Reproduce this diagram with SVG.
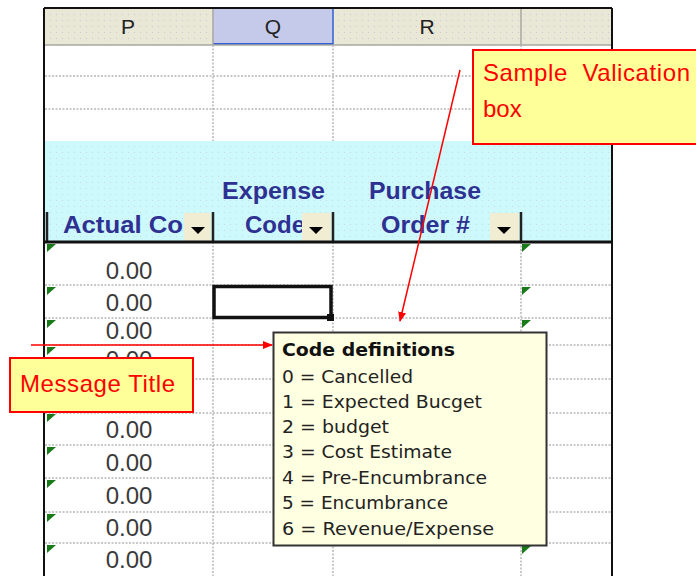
<svg xmlns="http://www.w3.org/2000/svg" width="696" height="576" viewBox="0 0 696 576">
<defs>
<marker id="ah" markerWidth="10" markerHeight="8" refX="9" refY="4" orient="auto" markerUnits="userSpaceOnUse">
<path d="M0,0 L10,4 L0,8 Z" fill="#ff0000"/>
</marker>
<pattern id="dots" width="6" height="6" patternUnits="userSpaceOnUse">
<rect x="2" y="2" width="1" height="1" fill="#c8c8d8"/>
</pattern>
<clipPath id="rowclip"><rect x="44" y="345" width="200" height="13"/></clipPath>
</defs>
<style>
.grid{stroke:#b8b8b8;stroke-width:1.5;stroke-dasharray:2 1.5;fill:none}
.colhdr{font-family:"Liberation Sans",Arial,sans-serif;font-size:21px;fill:#222;text-anchor:middle}
.hd{font-family:"Liberation Sans",Arial,sans-serif;font-weight:bold;font-size:23px;fill:#2e3192}
.num{font-family:"Liberation Sans",Arial,sans-serif;font-size:24px;fill:#3a3a3a;text-anchor:middle}
.tip{font-family:"DejaVu Sans",Tahoma,sans-serif;font-size:17px;fill:#222}
.tipb{font-family:"DejaVu Sans",Tahoma,sans-serif;font-size:17px;font-weight:bold;fill:#111}
.call{font-family:"Liberation Sans",Arial,sans-serif;font-size:24px;fill:#ff0000}
.green{fill:#1a7a1a}
.ddbtn{fill:#f1edd2}
</style>
<rect width="696" height="576" fill="#ffffff"/>
<g id="sheet">
<rect x="44" y="8" width="568" height="37" fill="#e9e7d6"/>
<rect x="44" y="8" width="568" height="37" fill="url(#dots)"/>
<rect x="213" y="8" width="120" height="37" fill="#c6caea"/>
<line x1="213" y1="44" x2="333" y2="44" stroke="#2f5fd0" stroke-width="2"/>
<line x1="333" y1="8" x2="333" y2="45" stroke="#2f5fd0" stroke-width="1.5"/>
<line x1="213" y1="8" x2="213" y2="45" stroke="#a8a8a0" stroke-width="1.5"/>
<line x1="521" y1="8" x2="521" y2="45" stroke="#a8a8a0" stroke-width="1.5"/>
<line x1="44" y1="45" x2="612" y2="45" stroke="#a8a8a0" stroke-width="1.5"/>
<text class="colhdr" x="128" y="34">P</text>
<text class="colhdr" x="273" y="34">Q</text>
<text class="colhdr" x="427" y="34">R</text>
<rect x="45" y="141" width="567" height="101" fill="#cdf8fc"/>
<rect x="45" y="141" width="567" height="101" fill="url(#dots)" opacity="0.6"/>
<line class="grid" x1="45" y1="76" x2="612" y2="76"/>
<line class="grid" x1="45" y1="109" x2="612" y2="109"/>
<line class="grid" x1="213" y1="45" x2="213" y2="141"/>
<line class="grid" x1="333" y1="45" x2="333" y2="141"/>
<line class="grid" x1="521" y1="45" x2="521" y2="141"/>
<line class="grid" x1="213" y1="242" x2="213" y2="576"/>
<line class="grid" x1="333" y1="242" x2="333" y2="576"/>
<line class="grid" x1="521" y1="242" x2="521" y2="576"/>
<line class="grid" x1="45" y1="285" x2="612" y2="285"/>
<line class="grid" x1="45" y1="318" x2="612" y2="318"/>
<line class="grid" x1="45" y1="345" x2="612" y2="345"/>
<line class="grid" x1="45" y1="379" x2="612" y2="379"/>
<line class="grid" x1="45" y1="413" x2="612" y2="413"/>
<line class="grid" x1="45" y1="445" x2="612" y2="445"/>
<line class="grid" x1="45" y1="478" x2="612" y2="478"/>
<line class="grid" x1="45" y1="512" x2="612" y2="512"/>
<line class="grid" x1="45" y1="543" x2="612" y2="543"/>
<text class="hd" x="63" y="233" textLength="120" lengthAdjust="spacingAndGlyphs">Actual Co</text>
<text class="hd" x="222" y="199" textLength="103" lengthAdjust="spacingAndGlyphs">Expense</text>
<text class="hd" x="245" y="233" textLength="60" lengthAdjust="spacingAndGlyphs">Code</text>
<text class="hd" x="369" y="199" textLength="112" lengthAdjust="spacingAndGlyphs">Purchase</text>
<text class="hd" x="381" y="233" textLength="89" lengthAdjust="spacingAndGlyphs">Order #</text>
<rect class="ddbtn" x="184" y="213" width="27" height="29"/>
<rect class="ddbtn" x="302" y="213" width="29" height="29"/>
<rect class="ddbtn" x="490" y="213" width="29" height="29"/>
<path d="M191,227 L205,227 L198,234 Z" fill="#000"/>
<path d="M309,227 L323,227 L316,234 Z" fill="#000"/>
<path d="M497,227 L511,227 L504,234 Z" fill="#000"/>
<g stroke="#222" stroke-width="2.5">
<line x1="47" y1="212" x2="47" y2="242"/>
<line x1="213" y1="212" x2="213" y2="242"/>
<line x1="333" y1="212" x2="333" y2="242"/>
<line x1="521" y1="212" x2="521" y2="242"/>
</g>
<line x1="44" y1="242" x2="612" y2="242" stroke="#111" stroke-width="3"/>
<g class="green">
<path d="M47,244 L56,244 L47,252 Z"/>
<path d="M47,287 L56,287 L47,295 Z"/>
<path d="M47,320 L56,320 L47,328 Z"/>
<path d="M47,347 L56,347 L47,355 Z"/>
<path d="M47,414 L56,414 L47,422 Z"/>
<path d="M47,447 L56,447 L47,455 Z"/>
<path d="M47,480 L56,480 L47,488 Z"/>
<path d="M47,514 L56,514 L47,522 Z"/>
<path d="M47,545 L56,545 L47,553 Z"/>
<path d="M522,244 L531,244 L522,252 Z"/>
<path d="M522,287 L531,287 L522,295 Z"/>
<path d="M522,320 L531,320 L522,328 Z"/>
<path d="M522,546 L531,546 L522,554 Z"/>
</g>
<text class="num" x="129" y="279">0.00</text>
<text class="num" x="129" y="311">0.00</text>
<text class="num" x="129" y="339">0.00</text>
<text class="num" x="129" y="368" clip-path="url(#rowclip)">0.00</text>
<text class="num" x="129" y="438">0.00</text>
<text class="num" x="129" y="471">0.00</text>
<text class="num" x="129" y="504">0.00</text>
<text class="num" x="129" y="536">0.00</text>
<text class="num" x="129" y="568">0.00</text>
<rect x="214" y="286.5" width="117" height="31" fill="none" stroke="#111" stroke-width="3.5"/>
<rect x="327" y="314" width="7" height="7" fill="#111"/>
<line x1="44" y1="8" x2="612" y2="8" stroke="#111" stroke-width="2"/>
<line x1="44" y1="8" x2="44" y2="576" stroke="#111" stroke-width="2"/>
<line x1="612" y1="8" x2="612" y2="576" stroke="#111" stroke-width="2"/>
</g>
<g id="tooltip">
<rect x="273.5" y="332.5" width="273" height="213" fill="#ffffe1" stroke="#333" stroke-width="2"/>
<text class="tipb" x="282" y="356" textLength="173" lengthAdjust="spacingAndGlyphs">Code definitions</text>
<text class="tip" x="282" y="383" textLength="131" lengthAdjust="spacingAndGlyphs">0 = Cancelled</text>
<text class="tip" x="282" y="408" textLength="200" lengthAdjust="spacingAndGlyphs">1 = Expected Bucget</text>
<text class="tip" x="282" y="433" textLength="107" lengthAdjust="spacingAndGlyphs">2 = budget</text>
<text class="tip" x="282" y="458" textLength="170" lengthAdjust="spacingAndGlyphs">3 = Cost Estimate</text>
<text class="tip" x="282" y="484" textLength="205" lengthAdjust="spacingAndGlyphs">4 = Pre-Encumbrance</text>
<text class="tip" x="282" y="509" textLength="166" lengthAdjust="spacingAndGlyphs">5 = Encumbrance</text>
<text class="tip" x="282" y="535" textLength="212" lengthAdjust="spacingAndGlyphs">6 = Revenue/Expense</text>
</g>
<g id="callout-validation">
<rect x="473" y="50" width="230" height="94" fill="#ffff99" stroke="#ff0000" stroke-width="2"/>
<text class="call" x="483" y="81" textLength="207" lengthAdjust="spacing" xml:space="preserve">Sample  Valication</text>
<text class="call" x="483" y="117">box</text>
</g>
<g id="callout-message">
<rect x="10" y="358" width="183" height="54" fill="#ffff99" stroke="#ff0000" stroke-width="2"/>
<text class="call" x="20" y="392" textLength="155" lengthAdjust="spacing">Message Title</text>
</g>
<g id="connectors">
<line x1="460" y1="70" x2="400" y2="321" stroke="#ff0000" stroke-width="1.5" marker-end="url(#ah)"/>
<line x1="31" y1="345" x2="272" y2="345" stroke="#ff0000" stroke-width="1.5" marker-end="url(#ah)"/>
</g>
</svg>
